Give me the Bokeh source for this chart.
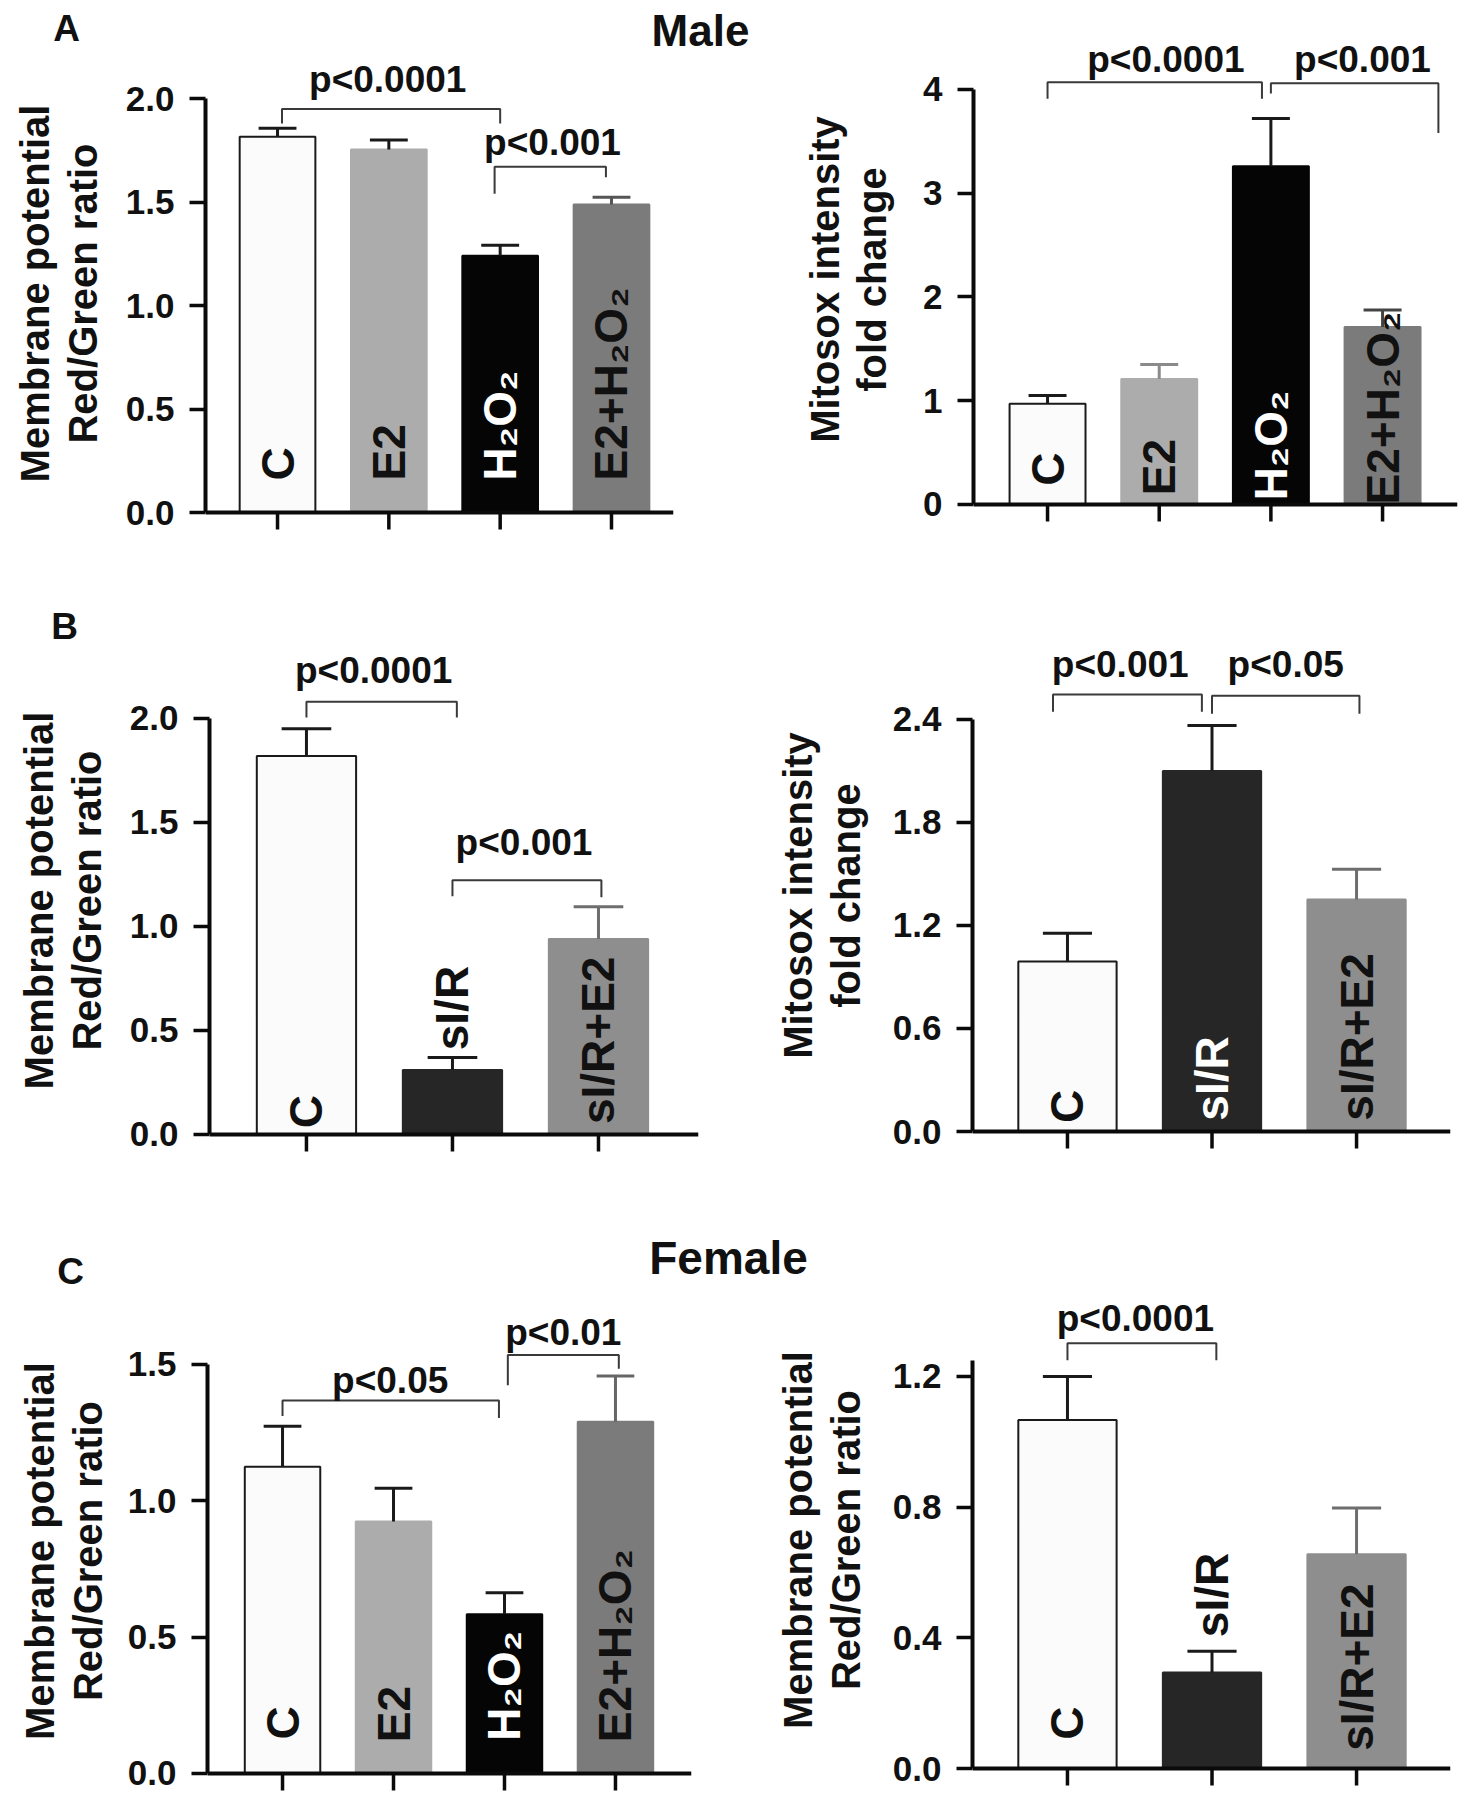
import numpy as np
from bokeh.plotting import figure
from bokeh.models import Range1d, FixedTicker, NumeralTickFormatter
from bokeh.layouts import column, row
from bokeh.embed import file_html
from bokeh.resources import INLINE
from bokeh.core.properties import value

FONT = "Liberation Sans"

# ------------------------------------------------------------------ data
# A (male, H2O2 model)
a_groups = ["C", "E2", "H\u2082O\u2082", "E2+H\u2082O\u2082"]
a_mp_mean = [1.816, 1.754, 1.241, 1.488]
a_mp_sem = [0.040, 0.046, 0.050, 0.035]
a_mx_mean = [0.97, 1.21, 3.26, 1.71]
a_mx_sem = [0.08, 0.14, 0.46, 0.165]
a_mp_ticks = [0.0, 0.5, 1.0, 1.5, 2.0]
a_mx_ticks = [0, 1, 2, 3, 4]

# B (male, sI/R model)
b_groups = ["C", "sI/R", "sI/R+E2"]
b_mp_mean = [1.82, 0.31, 0.94]
b_mp_sem = [0.13, 0.06, 0.155]
b_mx_mean = [0.99, 2.10, 1.352]
b_mx_sem = [0.165, 0.265, 0.176]
b_mp_ticks = [0.0, 0.5, 1.0, 1.5, 2.0]
b_mx_ticks = [0.0, 0.6, 1.2, 1.8, 2.4]

# C (female)
c_groups = ["C", "E2", "H\u2082O\u2082", "E2+H\u2082O\u2082"]
c_mp_mean = [1.125, 0.924, 0.584, 1.29]
c_mp_sem = [0.148, 0.122, 0.079, 0.168]
c_mp_ticks = [0.0, 0.5, 1.0, 1.5]
d_groups = ["C", "sI/R", "sI/R+E2"]
d_mp_mean = [1.067, 0.294, 0.656]
d_mp_sem = [0.133, 0.065, 0.141]
d_mp_ticks = [0.0, 0.4, 0.8, 1.2]

# significance labels
a_mp_sig = ["p<0.0001", "p<0.001"]
a_mx_sig = ["p<0.0001", "p<0.001"]
b_mp_sig = ["p<0.0001", "p<0.001"]
b_mx_sig = ["p<0.001", "p<0.05"]
c_mp_sig = ["p<0.05", "p<0.01"]
d_mp_sig = ["p<0.0001"]

YL_MP = "Membrane potential\nRed/Green ratio"
YL_MX = "Mitosox intensity\nfold change"

# ------------------------------------------------------------------ styles
WHITE, LGRAY, BLACK, DGRAY = "#fbfbfb", "#acacac", "#050505", "#7b7b7b"
SIR, SIRE2 = "#262626", "#8e8e8e"
AXC = "#0a0a0a"
TICK_PX = 17  # length of the x tick marks below the axis, in pixels
SIG_PX = 37   # font size of the p-value labels
BASE_SHIFT = 0.29  # lift of alphabetic text, in em


def no_align(fig):
    try:
        fig.frame_align = False
    except Exception:
        pass


def panel(width, height, borders, xr, ytop, ppu, groups, mean, sem, ticks,
          fmt, ybound, ylabel, fills, lines, wcolors, tcolors, label_y,
          brackets, sig, label_standoff):
    mbl, mbr, mbt, mbb = borders
    ybot = -(TICK_PX + 2) / ppu
    p = figure(width=width, height=height, output_backend="svg",
               toolbar_location=None, title=None, x_axis_location=None,
               x_range=Range1d(*xr), y_range=Range1d(ybot, ytop),
               min_border_left=mbl, min_border_right=mbr,
               min_border_top=mbt, min_border_bottom=mbb - (TICK_PX + 2))
    no_align(p)
    n = len(groups)
    x = list(range(n))
    p.vbar(x=x, top=mean, bottom=0, width=0.68, fill_color=fills,
           line_color=lines, line_width=2)
    tops = [m + s for m, s in zip(mean, sem)]
    p.segment(x0=x, y0=mean, x1=x, y1=tops, line_color=wcolors, line_width=3)
    p.segment(x0=[v - 0.17 for v in x], y0=tops, x1=[v + 0.17 for v in x],
              y1=tops, line_color=wcolors, line_width=3)
    # x axis (line + tick marks, no labels)
    p.segment(x0=[xr[0]], y0=[0], x1=[xr[1]], y1=[0], line_color=AXC,
              line_width=4)
    p.segment(x0=x, y0=[0] * n, x1=x, y1=[-TICK_PX / ppu] * n,
              line_color=AXC, line_width=3.5)
    # labels inside bars
    p.text(x=x, y=label_y, text=groups, angle=np.pi / 2, text_align="left",
           text_baseline="middle", text_color=tcolors,
           text_font=value(FONT), text_font_style="bold",
           text_font_size="46px")
    # brackets
    xs, ys, lx, ly = [], [], [], []
    for (xl, xrr, yt, yle, yre, tx, ty) in brackets:
        xs.append([xl, xl, xrr, xrr])
        ys.append([yle, yt, yt, yre])
        lx.append(tx)
        ly.append(ty)
    p.multi_line(xs=xs, ys=ys, line_color="#3a3a3a", line_width=2)
    p.text(x=lx, y=ly, text=sig, text_align="center",
           text_baseline="alphabetic", text_color="#111111",
           text_font=value(FONT), text_font_style="bold",
           text_font_size=f"{SIG_PX}px", y_offset=-BASE_SHIFT * SIG_PX)
    # axes
    p.grid.visible = False
    p.outline_line_color = None
    p.background_fill_color = "white"
    ya = p.yaxis[0]
    ya.ticker = FixedTicker(ticks=ticks)
    ya.formatter = NumeralTickFormatter(format=fmt)
    ya.bounds = (0, ybound)
    ya.major_tick_out = 16
    ya.major_tick_in = 0
    ya.minor_tick_out = 0
    ya.minor_tick_in = 0
    ya.axis_line_width = 4
    ya.major_tick_line_width = 3.5
    ya.axis_line_color = AXC
    ya.major_tick_line_color = AXC
    ya.major_label_text_font = FONT
    ya.major_label_text_font_style = "bold"
    ya.major_label_text_font_size = "35px"
    ya.major_label_text_color = "#111111"
    ya.major_label_standoff = 15
    ya.axis_label = ylabel
    ya.axis_label_text_font = FONT
    ya.axis_label_text_font_style = "bold"
    ya.axis_label_text_font_size = "40px"
    ya.axis_label_text_color = "#111111"
    ya.axis_label_text_line_height = 1.08
    ya.axis_label_standoff = label_standoff
    return p


def header(width, height, texts, xs, ys, sizes):
    h = figure(width=width, height=height, output_backend="svg",
               toolbar_location=None, title=None, x_axis_location=None,
               y_axis_location=None, x_range=Range1d(0, width),
               y_range=Range1d(0, height), min_border=0)
    no_align(h)
    h.grid.visible = False
    h.outline_line_color = None
    for t, x, y, s in zip(texts, xs, ys, sizes):
        h.text(x=[x], y=[y], text=[t], text_align="center",
               text_baseline="alphabetic", text_color="#111111",
               text_font=value(FONT), text_font_style="bold",
               text_font_size=f"{s}px", y_offset=-BASE_SHIFT * s)
    return h


# ---- row A  (page y 0..560)
hA = header(760, 54, ["A", "Male"], [66, 700], [15, 11.3], [37, 44])
pA1 = panel(760, 506, (205, 87, 1, 48), (-0.647, 3.557), 2.208, 207.0,
            a_groups, a_mp_mean, a_mp_sem, a_mp_ticks, "0.0", 2.0, YL_MP,
            [WHITE, LGRAY, BLACK, DGRAY], ["#1a1a1a", LGRAY, BLACK, DGRAY],
            ["#1a1a1a", "#1a1a1a", "#1a1a1a", "#555555"],
            ["#111111", "#111111", "white", "#111111"],
            [0.155, 0.155, 0.155, 0.155],
            [(0.04, 2.0, 1.95, 1.88, 1.88, 0.99, 2.04),
             (1.95, 2.95, 1.67, 1.54, 1.62, 2.47, 1.734)],
            a_mp_sig, 18)
pA2 = panel(698, 560, (213, 1, 35, 56), (-0.663, 3.671), 4.520, 103.75,
            a_groups, a_mx_mean, a_mx_sem, a_mx_ticks, "0", 4, YL_MX,
            [WHITE, LGRAY, BLACK, DGRAY], ["#1a1a1a", LGRAY, BLACK, DGRAY],
            ["#1a1a1a", "#8a8a8a", "#1a1a1a", "#444444"],
            ["#111111", "#111111", "white", "#111111"],
            [0.18, 0.09, 0.04, 0.0],
            [(0.0, 1.92, 4.07, 3.91, 3.91, 1.06, 4.19),
             (2.0, 3.5, 4.06, 3.96, 3.58, 2.82, 4.19)],
            a_mx_sig, 26)

# ---- row B  (page y 560..1188)
hB = header(733, 87, ["B"], [64], [10], [37])
pB1 = panel(733, 541, (209, 35, 0, 54), (-0.664, 2.685), 2.341, 208.0,
            b_groups, b_mp_mean, b_mp_sem, b_mp_ticks, "0.0", 2.0, YL_MP,
            [WHITE, SIR, SIRE2], ["#1a1a1a", SIR, SIRE2],
            ["#1a1a1a", "#1a1a1a", "#6e6e6e"],
            ["#111111", "#111111", "#111111"],
            [0.03, 0.405, 0.05],
            [(0.0, 1.03, 2.08, 2.005, 2.005, 0.46, 2.18),
             (1.0, 2.02, 1.222, 1.145, 1.14, 1.49, 1.35)],
            b_mp_sig, 18)
pB2 = panel(725, 628, (239, 8, 80, 57), (-0.657, 2.65), 2.860, 171.7,
            b_groups, b_mx_mean, b_mx_sem, b_mx_ticks, "0.0", 2.4, YL_MX,
            [WHITE, SIR, SIRE2], ["#1a1a1a", SIR, SIRE2],
            ["#1a1a1a", "#1a1a1a", "#6e6e6e"],
            ["#111111", "white", "#111111"],
            [0.05, 0.063, 0.063],
            [(-0.10, 0.93, 2.546, 2.445, 2.445, 0.365, 2.66),
             (1.0, 2.02, 2.538, 2.433, 2.433, 1.51, 2.66)],
            b_mx_sig, 22)

# ---- row C  (heading 1188..1292, panels 1292..1792)
hC = header(1458, 104, ["C", "Female"], [70, 728], [10, 21], [37, 46])
pC1 = panel(733, 500, (207, 42, 17, 19), (-0.676, 3.685), 1.7015, 272.7,
            c_groups, c_mp_mean, c_mp_sem, c_mp_ticks, "0.0", 1.5, YL_MP,
            [WHITE, LGRAY, BLACK, DGRAY], ["#1a1a1a", LGRAY, BLACK, DGRAY],
            ["#1a1a1a", "#1a1a1a", "#1a1a1a", "#666666"],
            ["#111111", "#111111", "white", "#111111"],
            [0.125, 0.115, 0.12, 0.115],
            [(0.0, 1.95, 1.368, 1.311, 1.304, 0.97, 1.40),
             (2.03, 3.03, 1.535, 1.424, 1.484, 2.53, 1.576)],
            c_mp_sig, 15)
pC2 = panel(725, 500, (239, 8, 0, 24), (-0.657, 2.65), 1.457, 326.7,
            d_groups, d_mp_mean, d_mp_sem, d_mp_ticks, "0.0", 1.25, YL_MP,
            [WHITE, SIR, SIRE2], ["#1a1a1a", SIR, SIRE2],
            ["#1a1a1a", "#1a1a1a", "#6e6e6e"],
            ["#111111", "#111111", "#111111"],
            [0.088, 0.402, 0.054],
            [(0.0, 1.03, 1.302, 1.25, 1.25, 0.47, 1.345)],
            d_mp_sig, 22)

layout = column(row(column(hA, pA1), pA2), row(column(hB, pB1), pB2),
                hC, row(pC1, pC2))
open("out.html", "w").write(file_html(layout, INLINE))
